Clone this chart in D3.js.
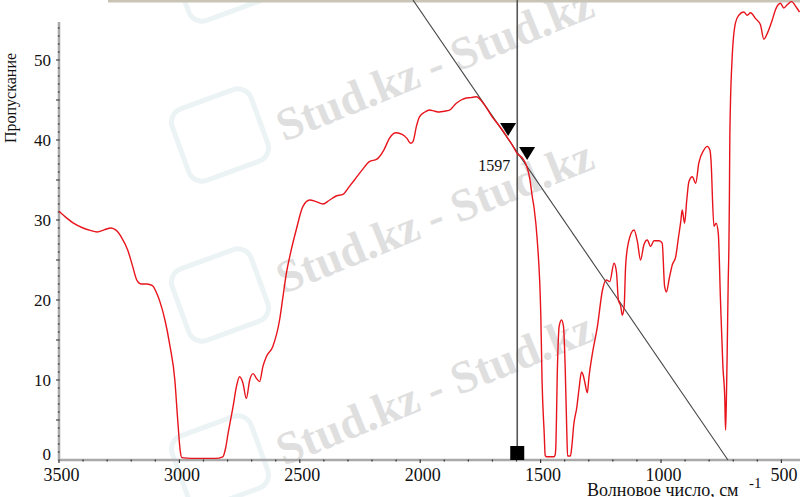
<!DOCTYPE html>
<html>
<head>
<meta charset="utf-8">
<script src="https://cdn.jsdelivr.net/npm/d3@7"></script>
<style>
  html, body { margin: 0; padding: 0; background: #fff; }
  svg { display: block; }
  svg text { font-family: "Liberation Serif", "Times New Roman", Times, serif; }
</style>
</head>
<body>
<svg id="chart" width="800" height="497"></svg>
<script>
// ---- data ----
const wavenumbers = [
  3500,3470,3440,3400,3370,3342,3310,3285,3262,3240,3214,3195,3177,3160,3135,3112,3095,3081,3060,3040,
  3019,3007,2996,2990,2950,2900,2850,2820,2808,2798,2777,2763,2750,2736,2722,2708,2694,2680,2667,2653,
  2639,2612,2584,2570,2556,2542,2515,2487,2459,2432,2404,2376,2349,2321,2294,2273,2240,2211,2180,2150,
  2128,2100,2075,2055,2040,2030,2015,2003,1980,1962,1940,1920,1900,1880,1850,1830,1808,1790,1767,1742,
  1720,1701,1680,1659,1640,1618,1597,1576,1560,1545,1535,1527,1514,1499,1494,1485,1481,1476,1445,1440,
  1437,1430,1423,1413,1405,1398,1391,1388,1376,1371,1362,1350,1340,1330,1323,1315,1306,1299,1285,1264,
  1243,1227,1213,1195,1185,1177,1167,1161,1153,1147,1136,1112,1098,1085,1071,1057,1043,1029,1008,995,
  985,977,967,953,939,928,918,912,902,893,884,870,856,843,822,808,797,790,787,780,
  771,762,753,743,735,732,729,725,721,718,716,714,705,691,677,656,642,628,608,587,
  573,559,538,525,504,490,476,458,436,425
];
const transmittance = [
  31.1,30.3,29.6,29.0,28.7,28.5,28.8,29.0,28.7,27.8,26.2,24.3,22.5,22.0,22.0,21.8,20.9,19.8,17.5,14.4,
  10.0,5.0,1.0,0.3,0.2,0.2,0.2,0.4,1.5,3.3,6.7,9.2,10.4,9.6,7.7,10.0,10.8,10.2,9.8,11.7,
  12.9,14.2,17.5,20.4,23.3,25.4,28.75,31.7,32.5,32.3,32.0,32.5,33.0,33.2,34.2,35.0,36.3,37.3,37.6,38.8,
  40.2,40.9,40.7,40.2,39.6,39.8,41.8,42.9,43.5,43.75,43.6,43.5,43.6,43.7,44.6,45.0,45.25,45.3,45.4,44.75,
  43.8,42.9,42.1,41.25,40.4,39.4,38.3,37.75,36.9,35.2,33.0,31.5,27.5,17.9,10.0,3.3,0.6,0.4,0.4,0.6,
  1.5,11.7,16.7,17.5,16.7,11.7,3.3,0.5,0.5,1.5,4.5,6.5,9.0,11.0,10.6,9.5,8.4,10.4,13.3,16.7,
  21.25,22.5,22.3,24.6,23.5,20.0,19.2,18.1,19.2,24.2,27.1,28.75,27.3,25.0,26.9,27.5,26.7,27.4,27.4,27.1,
  21.7,21.0,22.5,24.4,25.4,27.7,29.8,31.25,29.6,32.5,34.8,35.4,34.6,37.1,38.75,39.2,38.75,36.0,33.3,29.2,
  29.6,28.3,20.0,11.7,7.5,3.75,6.7,13.75,22.1,26.7,32.5,40.8,50.0,54.6,55.6,56.0,55.6,55.9,55.2,54.4,
  52.6,53.3,55.0,56.25,57.1,56.5,56.9,57.3,56.5,56.0
];
const xTickLabels = [3500, 3000, 2500, 2000, 1500, 1000, 500];
const yTickLabels = [0, 10, 20, 30, 40, 50];
const markedPeak = 1597;
const baselineWn = [2030, 722];
const baselineT = [57.5, 0];
const triangleWn = [1635, 1556];
const triangleT = [40.5, 37.5];
const watermarkRows = ["Stud.kz - Stud.kz", "Stud.kz - Stud.kz", "Stud.kz - Stud.kz"];

// ---- chart ----
const svg = d3.select("#chart");
const x = d3.scaleLinear().domain([3500, 500]).range([59, 781.4]);
const y = d3.scaleLinear().domain([0, 50]).range([460, 60]);
const serif = "\"Liberation Serif\", \"Times New Roman\", Times, serif";

// watermark logos (faint rounded frames)
const logoPos = [[220, -25], [220, 135], [220, 295], [220, 462]];
svg.append("g").selectAll("rect").data(logoPos).join("rect")
  .attr("x", -42).attr("y", -38).attr("width", 84).attr("height", 76)
  .attr("rx", 14)
  .attr("transform", d => `translate(${d[0]},${d[1]}) rotate(-20)`)
  .attr("fill", "none").attr("stroke", "#ebf3f5").attr("stroke-width", 5);

// watermark text
const wmStarts = [[284, 142], [284, 294], [284, 466]];
svg.append("g").selectAll("text").data(watermarkRows).join("text")
  .attr("transform", (d, i) => `translate(${wmStarts[i][0]},${wmStarts[i][1]}) rotate(-22)`)
  .style("font-family", serif).attr("font-weight", "bold").attr("font-size", 46)
  .attr("fill", "#dfdfdf")
  .text(d => d);

// top bar
svg.append("rect").attr("x", 108).attr("y", 0).attr("width", 692).attr("height", 2.5)
  .attr("fill", "#c9c5b6");

// axes lines
svg.append("line")
  .attr("x1", x(3500)).attr("x2", 800).attr("y1", y(0)).attr("y2", y(0))
  .attr("stroke", "#a9a9a9").attr("stroke-width", 2.5);
svg.append("line")
  .attr("x1", x(3500)).attr("x2", x(3500)).attr("y1", 22).attr("y2", y(0) + 1)
  .attr("stroke", "#a9a9a9").attr("stroke-width", 2.5);

// minor ticks
const xMinor = d3.range(400, 3501, 100).filter(v => x(v) <= 799);
svg.append("g").selectAll("line").data(xMinor).join("line")
  .attr("x1", d => x(d)).attr("x2", d => x(d))
  .attr("y1", y(0) - 0.5)
  .attr("y2", d => y(0) + (d % 500 === 0 ? 3 : 1.5))
  .attr("stroke", "#333").attr("stroke-width", 1.2);
const yMinor = d3.range(1, 55, 1);
svg.append("g").selectAll("line").data(yMinor).join("line")
  .attr("x1", d => x(3500) - (d % 5 === 0 ? 3 : 1.2)).attr("x2", x(3500) + 0.6)
  .attr("y1", d => y(d)).attr("y2", d => y(d))
  .attr("stroke", "#333").attr("stroke-width", 1.1);

// axes labels via d3 axes
const xAxis = d3.axisBottom(x).tickValues(xTickLabels).tickSize(0).tickPadding(8)
  .tickFormat(d3.format("d"));
const gx = svg.append("g").attr("transform", `translate(2,${y(0)})`).call(xAxis);
gx.attr("font-family", null);
gx.select(".domain").remove();
gx.selectAll("text").style("font-family", serif).attr("font-size", 18).attr("fill", "#111");

const yAxis = d3.axisLeft(y).tickValues(yTickLabels).tickSize(0).tickPadding(8)
  .tickFormat(d3.format("d"));
const gy = svg.append("g").attr("transform", `translate(${x(3500)},0)`).call(yAxis);
gy.attr("font-family", null);
gy.select(".domain").remove();
gy.selectAll("text").style("font-family", serif).attr("font-size", 17).attr("fill", "#111")
  .attr("dy", d => d === 0 ? "-0.05em" : "0.32em");

// axis titles
svg.append("text")
  .attr("transform", "translate(16,98) rotate(-90)")
  .attr("text-anchor", "middle")
  .style("font-family", serif).attr("font-size", 16).attr("fill", "#111")
  .text("Пропускание");
const xTitle = svg.append("text")
  .attr("x", 587).attr("y", 496)
  .style("font-family", serif).attr("font-size", 18).attr("fill", "#111")
  .text("Волновое число, см");
const titleEnd = 587 + xTitle.node().getComputedTextLength();
svg.append("text")
  .attr("x", Math.max(titleEnd + 3, 749)).attr("y", 488)
  .style("font-family", serif).attr("font-size", 15).attr("fill", "#111")
  .text("-1");

// vertical marker line at peak
svg.append("line")
  .attr("x1", x(markedPeak)).attr("x2", x(markedPeak))
  .attr("y1", 0).attr("y2", y(0))
  .attr("stroke", "#555").attr("stroke-width", 1.6);

// baseline (tangent) line
svg.append("line")
  .attr("x1", x(baselineWn[0])).attr("y1", y(baselineT[0]))
  .attr("x2", x(baselineWn[1])).attr("y2", y(baselineT[1]))
  .attr("stroke", "#444").attr("stroke-width", 1.1);

// spectrum
const pts = wavenumbers.map((w, i) => [w, transmittance[i]]);
const line = d3.line().x(d => x(d[0])).y(d => y(d[1])).curve(d3.curveMonotoneX);
svg.append("path")
  .datum(pts)
  .attr("d", line)
  .attr("fill", "none")
  .attr("stroke", "#e8141c")
  .attr("stroke-width", 1.4)
  .attr("stroke-linejoin", "round");

// square marker at the peak
svg.append("rect")
  .attr("x", x(markedPeak) - 7).attr("y", y(0) - 14)
  .attr("width", 14).attr("height", 14)
  .attr("fill", "#000");

// triangles
const tri = triangleWn.map((w, i) => [w, triangleT[i]]);
svg.append("g").selectAll("path").data(tri).join("path")
  .attr("d", d => {
    const cx = x(d[0]), ty = y(d[1]);
    return `M${cx - 8},${ty - 13} L${cx + 8},${ty - 13} L${cx},${ty} Z`;
  })
  .attr("fill", "#000");

// peak label
svg.append("text")
  .attr("x", x(markedPeak) - 7).attr("y", 171)
  .attr("text-anchor", "end")
  .style("font-family", serif).attr("font-size", 16).attr("fill", "#111")
  .text(String(markedPeak));
</script>
</body>
</html>
